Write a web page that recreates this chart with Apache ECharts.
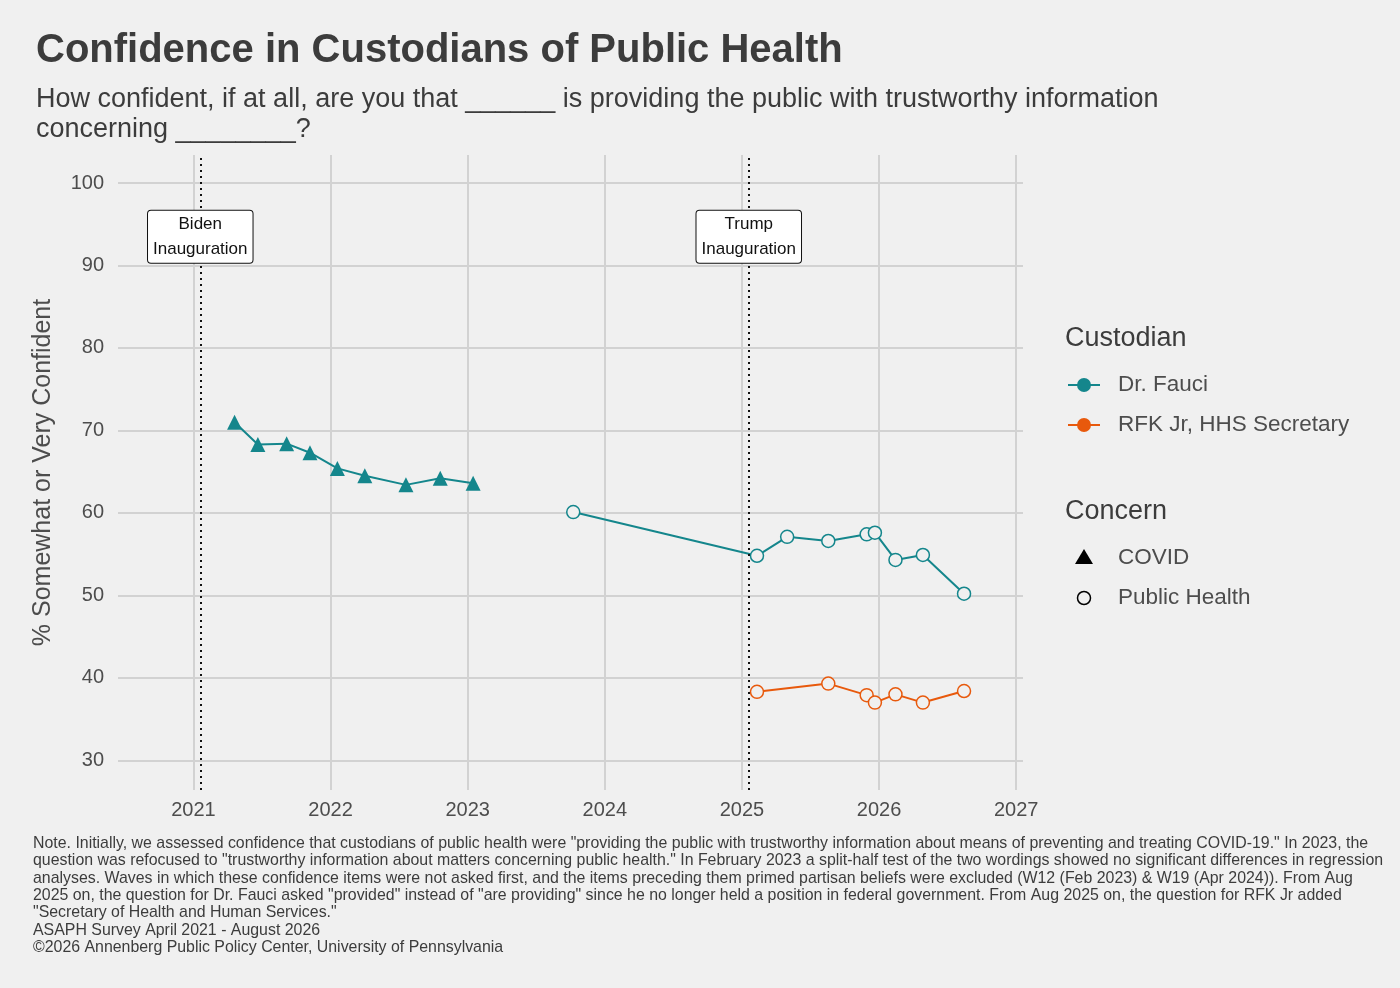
<!DOCTYPE html>
<html><head><meta charset="utf-8">
<script src="https://cdn.jsdelivr.net/npm/echarts@6/dist/echarts.min.js"></script>
<style>html,body{margin:0;background:#f0f0f0}#c{width:1400px;height:988px}</style>
</head><body><div id="c"></div>
<script>
const yearTicks = [2021,2022,2023,2024,2025,2026,2027];
const yTicks = [30,40,50,60,70,80,90,100];
const covidDates = [2021.30,2021.47,2021.68,2021.85,2022.05,2022.25,2022.55,2022.80,2023.04];
const covidFauci = [71.0,68.3,68.4,67.3,65.4,64.5,63.4,64.2,63.6];
const phDatesFauci = [2023.77,2025.11,2025.33,2025.63,2025.91,2025.97,2026.12,2026.32,2026.62];
const phFauci = [60.1,54.8,57.1,56.6,57.4,57.6,54.3,54.9,50.2];
const phDatesRFK = [2025.11,2025.63,2025.91,2025.97,2026.12,2026.32,2026.62];
const phRFK = [38.3,39.3,37.9,37.0,38.0,37.0,38.4];
const events = [{x:2021.05,name:'Biden\nInauguration'},{x:2025.05,name:'Trump\nInauguration'}];
const teal='#14868c', orange='#e8590c', txt='#4d4d4d', F='"Liberation Sans", Arial, sans-serif';
const zip=(a,b)=>a.map((v,i)=>[v,b[i]]);
const chart = echarts.init(document.getElementById('c'));
chart.setOption({
  backgroundColor:'#f0f0f0',
  textStyle:{fontFamily:F},
  title:[{text:'Confidence in Custodians of Public Health',left:31,top:26,textStyle:{fontSize:40,fontWeight:'bold',color:'#3c3c3c',fontFamily:F}},
    {text:'How confident, if at all, are you that ______ is providing the public with trustworthy information\nconcerning ________?',left:31,top:80,textStyle:{fontSize:27,fontWeight:'normal',color:'#3c3c3c',lineHeight:30,fontFamily:F}}],
  grid:{left:118,top:155,width:905,height:635,containLabel:false},
  xAxis:{type:'value',min:2020.45,max:2027.05,
    axisLine:{show:false},axisTick:{show:false,customValues:yearTicks},
    axisLabel:{customValues:yearTicks,fontSize:20,color:txt,margin:10,formatter:v=>String(Math.round(v))},
    splitLine:{show:true,lineStyle:{color:'#d2d2d2',width:2}}},
  yAxis:{type:'value',min:26.4,max:103.4,name:'% Somewhat or Very Confident',nameLocation:'middle',nameGap:62,
    nameTextStyle:{fontSize:25,color:txt},
    axisLine:{show:false},axisTick:{show:false,customValues:yTicks},
    axisLabel:{customValues:yTicks,fontSize:20,color:txt,margin:14},
    splitLine:{show:true,lineStyle:{color:'#d2d2d2',width:2}}},
  series:[
    {type:'line',data:zip(covidDates,covidFauci),symbol:'triangle',symbolSize:15,color:teal,lineStyle:{width:2,color:teal},itemStyle:{color:teal},z:3,
     markLine:{silent:true,symbol:'none',label:{show:false},lineStyle:{color:'#111',type:[2,4],width:2},data:events.map(e=>({xAxis:e.x}))},
     markPoint:{silent:true,symbol:'rect',symbolSize:1,itemStyle:{color:'transparent'},
       label:{show:true,position:'inside',fontSize:17,color:'#111',lineHeight:25,backgroundColor:'#fff',borderColor:'#111',borderWidth:1,borderRadius:3,padding:[1,5]},
       data:events.map(e=>({coord:[e.x,93.5],value:e.name,label:{formatter:e.name}}))}},
    {type:'line',data:zip(phDatesFauci,phFauci),symbol:'circle',symbolSize:13,color:teal,lineStyle:{width:2,color:teal},itemStyle:{color:'#f0f0f0',borderColor:teal,borderWidth:1.5},z:3},
    {type:'line',data:zip(phDatesRFK,phRFK),symbol:'circle',symbolSize:13,color:orange,lineStyle:{width:2,color:orange},itemStyle:{color:'#f0f0f0',borderColor:orange,borderWidth:1.5},z:3}
  ],
  graphic:[
    {type:'text',left:1065,top:325,style:{text:'Custodian',fontSize:27,fill:'#3c3c3c',fontFamily:F}},
    {type:'line',shape:{x1:1068,y1:385,x2:1100,y2:385},style:{stroke:teal,lineWidth:2}},
    {type:'circle',shape:{cx:1084,cy:385,r:7},style:{fill:teal}},
    {type:'text',left:1118,top:373,style:{text:'Dr. Fauci',fontSize:22.5,fill:txt,fontFamily:F}},
    {type:'line',shape:{x1:1068,y1:425,x2:1100,y2:425},style:{stroke:orange,lineWidth:2}},
    {type:'circle',shape:{cx:1084,cy:425,r:7},style:{fill:orange}},
    {type:'text',left:1118,top:413,style:{text:'RFK Jr, HHS Secretary',fontSize:22.5,fill:txt,fontFamily:F}},
    {type:'text',left:1065,top:498,style:{text:'Concern',fontSize:27,fill:'#3c3c3c',fontFamily:F}},
    {type:'polygon',shape:{points:[[1084,549],[1093,564],[1075,564]]},style:{fill:'#000'}},
    {type:'text',left:1118,top:546,style:{text:'COVID',fontSize:22.5,fill:txt,fontFamily:F}},
    {type:'circle',shape:{cx:1084,cy:598,r:6.5},style:{fill:'none',stroke:'#000',lineWidth:1.5}},
    {type:'text',left:1118,top:586,style:{text:'Public Health',fontSize:22.5,fill:txt,fontFamily:F}},
    {type:'text',left:33,top:835,style:{fontSize:15.9,fill:'#3c3c3c',lineHeight:17.3,fontFamily:F,text:
'Note. Initially, we assessed confidence that custodians of public health were "providing the public with trustworthy information about means of preventing and treating COVID-19." In 2023, the\nquestion was refocused to "trustworthy information about matters concerning public health." In February 2023 a split-half test of the two wordings showed no significant differences in regression\nanalyses. Waves in which these confidence items were not asked first, and the items preceding them primed partisan beliefs were excluded (W12 (Feb 2023) & W19 (Apr 2024)). From Aug\n2025 on, the question for Dr. Fauci asked "provided" instead of "are providing" since he no longer held a position in federal government. From Aug 2025 on, the question for RFK Jr added\n"Secretary of Health and Human Services."\nASAPH Survey April 2021 - August 2026\n©2026 Annenberg Public Policy Center, University of Pennsylvania'}}
  ]
});
</script></body></html>
